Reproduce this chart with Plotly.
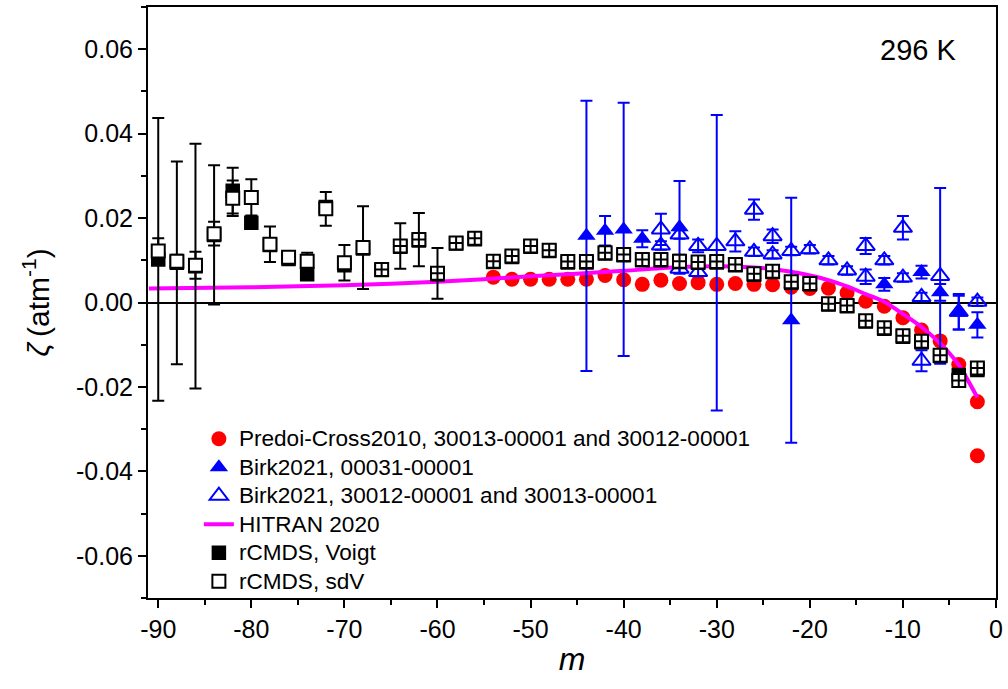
import plotly.graph_objects as go

# ---------------- data ----------------
# rCMDS (both line-shape models), even m from -90 to -2
m_rcmds = list(range(-90, 0, 2))
sdv_vals = [0.0122, 0.0098, 0.0088, 0.0163, 0.0247, 0.0249, 0.0138, 0.0107, 0.0098, 0.0222,
            0.0094, 0.0130, 0.0078, 0.0134, 0.0149, 0.0069, 0.0141, 0.0152, 0.0098, 0.0110,
            0.0134, 0.0124, 0.0097, 0.0097, 0.0118, 0.0114, 0.0102, 0.0102, 0.0098, 0.0096,
            0.0097, 0.0090, 0.0068, 0.0074, 0.0049, 0.0045, -0.0003, -0.0007, -0.0043, -0.0060,
            -0.0079, -0.0092, -0.0125, -0.0185, -0.0155]
sdv_err = [0.0030, 0.0015, 0.0032, 0.0028, 0.0042, 0.0043, 0.0042, 0.0012, 0.0020, 0.0040,
           0.0042, 0.0098, 0.0010, 0.0054, 0.0063, 0.0060, 0.0010, 0.0010, 0.0012, 0.0012,
           0.0012, 0.0012, 0.0015, 0.0015, 0.0015, 0.0015, 0.0015, 0.0015, 0.0015, 0.0012,
           0.0012, 0.0012, 0.0012, 0.0012, 0.0012, 0.0012, 0.0012, 0.0012, 0.0012, 0.0012,
           0.0012, 0.0012, 0.0012, 0.0012, 0.0012]
voigt_vals = [0.0102, 0.0094, 0.0086, 0.0160, 0.0265, 0.0189, 0.0136, 0.0103, 0.0067, 0.0226,
              0.0088, 0.0128, 0.0077, 0.0132, 0.0147, 0.0067, 0.0140, 0.0150, 0.0096, 0.0108,
              0.0132, 0.0122, 0.0095, 0.0095, 0.0116, 0.0112, 0.0100, 0.0100, 0.0096, 0.0094,
              0.0095, 0.0088, 0.0066, 0.0072, 0.0047, 0.0043, -0.0005, -0.0009, -0.0045, -0.0062,
              -0.0081, -0.0094, -0.0127, -0.0172, -0.0160]
voigt_err = [0.0335, 0.0240, 0.0290, 0.0165, 0.0054] + [0.0] * 40

# Predoi-Cross 2010
pc_m = list(range(-54, 0, 2)) + [-2]
pc_vals = [0.0060, 0.0055, 0.0055, 0.0055, 0.0055, 0.0055, 0.0064, 0.0054, 0.0043, 0.0053,
           0.0045, 0.0047, 0.0043, 0.0045, 0.0043, 0.0042, 0.0036, 0.0033, 0.0034, 0.0023,
           0.0003, -0.0009, -0.0036, -0.0065, -0.0091, -0.0147, -0.0235, -0.0363]
pc_err = [0.0008] * 26 + [0.0015, 0.0008]

# Birk 2021, 00031-00001 (filled)
bf_m = [-44, -42, -40, -38, -34, -22, -12, -8, -6, -4, -2]
bf_vals = [0.0158, 0.0170, 0.0173, 0.0151, 0.0178, -0.0042, 0.0043, 0.0072, 0.0024, -0.0024, -0.0053]
bf_err = [0.0320, 0.0035, 0.0300, 0.0020, 0.0110, 0.0290, 0.0015, 0.0015, 0.0020, 0.0040, 0.0030]

# Birk 2021, 30012-00001 and 30013-00001 (open)
bo_m = [-36, -36, -34, -34, -32, -32, -30, -28, -26, -26, -24, -24, -22,
        -20, -18, -16, -14, -14, -12, -10, -10, -8, -8, -6, -4, -2]
bo_vals = [0.0173, 0.0135, 0.0161, 0.0080, 0.0134, 0.0072, 0.0134, 0.0145, 0.0220, 0.0120,
           0.0157, 0.0114, 0.0122, 0.0126, 0.0100, 0.0076, 0.0134, 0.0061, 0.0100, 0.0177,
           0.0059, 0.0013, -0.0138, 0.0063, -0.0022, 0.0002]
bo_err_plus = [0.0037, 0.0010, 0.0010, 0.0010, 0.0015, 0.0010, 0.0310, 0.0024, 0.0024, 0.0010,
               0.0016, 0.0010, 0.0010, 0.0010, 0.0010, 0.0010, 0.0019, 0.0017, 0.0010, 0.0028,
               0.0010, 0.0010, 0.0025, 0.0208, 0.0042, 0.0010]
bo_err_minus = [0.0037, 0.0010, 0.0010, 0.0010, 0.0015, 0.0010, 0.0390, 0.0024, 0.0024, 0.0010,
                0.0016, 0.0010, 0.0010, 0.0010, 0.0010, 0.0010, 0.0019, 0.0017, 0.0010, 0.0028,
                0.0010, 0.0010, 0.0025, 0.0208, 0.0042, 0.0010]

# HITRAN 2020
hitran_m = [-91, -80, -70, -60, -50, -40, -34, -30, -26, -24, -22, -20, -18, -16, -14, -12,
            -10, -8, -6, -4, -2]
hitran_vals = [0.0033, 0.0036, 0.0041, 0.0049, 0.0062, 0.0075, 0.0084, 0.0086, 0.0083, 0.0079,
               0.0073, 0.0064, 0.0053, 0.0038, 0.0020, 0.0002, -0.0027, -0.0058, -0.0097,
               -0.0148, -0.0225]

x_tick_vals = list(range(-90, 1, 10))
x_tick_text = [str(v) for v in x_tick_vals]
y_tick_vals = [-0.06, -0.04, -0.02, 0.0, 0.02, 0.04, 0.06]
y_tick_text = ["-0.06", "-0.04", "-0.02", "0.00", "0.02", "0.04", "0.06"]

series_names = ["Predoi-Cross2010, 30013-00001 and 30012-00001",
                "Birk2021, 00031-00001",
                "Birk2021, 30012-00001 and 30013-00001",
                "HITRAN 2020",
                "rCMDS, Voigt",
                "rCMDS, sdV"]

# ---------------- figure ----------------
FONT = "Liberation Sans, Arial, sans-serif"
BLUE = "#0000FF"
RED = "#FF0000"
LEG_TEXT = '<span style="font-size:22.6px">{}</span>'

sdv_symbols = ["square-cross" if m >= -66 else "square" for m in m_rcmds]

fig = go.Figure()

fig.add_trace(go.Scatter(
    x=pc_m, y=pc_vals, mode="markers", name=LEG_TEXT.format(series_names[0]),
    marker=dict(symbol="circle", size=15, color=RED, line=dict(width=0)),
    error_y=dict(type="data", array=pc_err, color="#CC0000", thickness=1.2, width=3),
    legendrank=1))

fig.add_trace(go.Scatter(
    x=hitran_m, y=hitran_vals, mode="lines", name=LEG_TEXT.format(series_names[3]),
    line=dict(color="#FF00FF", width=4, shape="spline", smoothing=0.6),
    legendrank=4))

fig.add_trace(go.Scatter(
    x=bf_m, y=bf_vals, mode="markers", name=LEG_TEXT.format(series_names[1]),
    marker=dict(symbol="triangle-up", size=16, color=BLUE, line=dict(width=0)),
    error_y=dict(type="data", array=bf_err, color=BLUE, thickness=2, width=6),
    legendrank=2))

fig.add_trace(go.Scatter(
    x=bo_m, y=bo_vals, mode="markers", name=LEG_TEXT.format(series_names[2]),
    marker=dict(symbol="triangle-up-open", size=16, color=BLUE, line=dict(width=2, color=BLUE)),
    error_y=dict(type="data", symmetric=False, array=bo_err_plus, arrayminus=bo_err_minus,
                 color=BLUE, thickness=2, width=6),
    legendrank=3))

fig.add_trace(go.Scatter(
    x=m_rcmds, y=voigt_vals, mode="markers", name=LEG_TEXT.format(series_names[4]),
    marker=dict(symbol="square", size=13, color="black", line=dict(width=1.5, color="black")),
    error_y=dict(type="data", array=voigt_err, color="black", thickness=2, width=6),
    legendrank=5))

fig.add_trace(go.Scatter(
    x=m_rcmds, y=sdv_vals, mode="markers", name=LEG_TEXT.format(series_names[5]),
    marker=dict(symbol=sdv_symbols, size=13, color="white", line=dict(width=2, color="black")),
    error_y=dict(type="data", array=sdv_err, color="black", thickness=2, width=6),
    legendrank=6))

fig.add_annotation(x=0.908, y=0.927, xref="paper", yref="paper", text="296 K",
                   xanchor="center", yanchor="middle",
                   showarrow=False, font=dict(family=FONT, size=29, color="black"))

axis_common = dict(
    showline=True, linecolor="black", linewidth=2, mirror=True,
    ticks="outside", ticklen=8, tickwidth=2, tickcolor="black",
    showgrid=False, tickfont=dict(family=FONT, size=25, color="black"),
)

fig.update_xaxes(
    range=[-91.1, 0], tickmode="array", tickvals=x_tick_vals, ticktext=x_tick_text,
    zeroline=False,
    minor=dict(tickmode="linear", tick0=-85, dtick=10, ticks="outside", ticklen=5,
               tickwidth=2, tickcolor="black"),
    title=dict(text="<i>m</i>", font=dict(family=FONT, size=32, color="black"), standoff=6),
    **axis_common)

fig.update_yaxes(
    range=[-0.07, 0.07], tickmode="array", tickvals=y_tick_vals, ticktext=y_tick_text,
    zeroline=True, zerolinecolor="black", zerolinewidth=2,
    minor=dict(tickmode="linear", tick0=0.01, dtick=0.02, ticks="outside", ticklen=5,
               tickwidth=2, tickcolor="black"),
    title=dict(text="<i>ζ</i>\u2009(atm<sup>-1</sup>)", font=dict(family=FONT, size=30, color="black"),
               standoff=18),
    **axis_common)

fig.update_layout(
    width=1008, height=689,
    margin=dict(l=148, r=10, t=5, b=91),
    paper_bgcolor="white", plot_bgcolor="white",
    font=dict(family=FONT, color="black"),
    legend=dict(x=0.060, y=0.302, xanchor="left", yanchor="top",
                bgcolor="rgba(0,0,0,0)", borderwidth=0,
                font=dict(family=FONT, size=19.6, color="black"),
                traceorder="normal"),
)

fig.write_html("out.html")
